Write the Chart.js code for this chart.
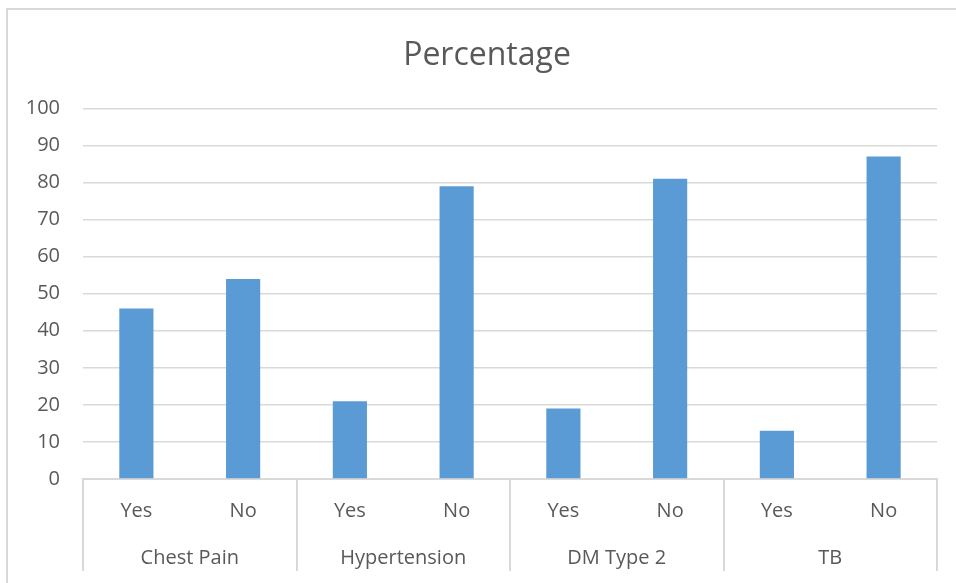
<!DOCTYPE html>
<html>
<head>
<meta charset="utf-8">
<script src="https://cdn.jsdelivr.net/npm/chart.js@4/dist/chart.umd.min.js"></script>
<style>
  html, body { margin: 0; padding: 0; background: #ffffff; }
  #wrap { width: 956px; height: 583px; }
</style>
</head>
<body>
<div id="wrap"><canvas id="chart" width="956" height="583"></canvas></div>
<script>
// Answer labels per bar, the condition each pair belongs to, and the percentages
const answers = ['Yes', 'No', 'Yes', 'No', 'Yes', 'No', 'Yes', 'No'];
const conditions = ['Chest Pain', 'Hypertension', 'DM Type 2', 'TB'];
const percentages = [46, 54, 21, 79, 19, 81, 13, 87];
const yTicks = [0, 10, 20, 30, 40, 50, 60, 70, 80, 90, 100];

const TEXT = '#595959';
const LINE = '#d9d9d9';
const FONT = "'Open Sans', 'Liberation Sans', sans-serif";

// Light frame around the chart box
const frame = {
  id: 'frame',
  beforeDraw(chart) {
    const ctx = chart.ctx;
    ctx.save();
    ctx.fillStyle = '#ffffff';
    ctx.fillRect(0, 0, chart.width, chart.height);
    ctx.strokeStyle = LINE;
    ctx.lineWidth = 2;
    ctx.strokeRect(7, 9, chart.width + 20, chart.height + 20);
    ctx.restore();
  }
};

// Vertical dividers between condition groups across both label rows
const groupDividers = {
  id: 'groupDividers',
  afterDraw(chart) {
    const x = chart.scales.x;
    const g = chart.scales.x2;
    const per = answers.length / conditions.length;
    const ctx = chart.ctx;
    ctx.save();
    ctx.strokeStyle = LINE;
    ctx.lineWidth = 2;
    ctx.beginPath();
    for (let i = 0; i <= conditions.length; i++) {
      const px = Math.round(x.getPixelForValue(i * per - 0.5));
      ctx.moveTo(px, chart.chartArea.bottom);
      ctx.lineTo(px, g.bottom - 1);
    }
    ctx.stroke();
    ctx.restore();
  }
};

new Chart(document.getElementById('chart'), {
  type: 'bar',
  data: {
    labels: answers,
    datasets: [{
      label: 'Percentage',
      data: percentages,
      backgroundColor: '#5b9bd5',
      borderWidth: 0,
      barPercentage: 0.64,
      categoryPercentage: 0.5,
      xAxisID: 'x',
      yAxisID: 'y'
    }]
  },
  options: {
    responsive: false,
    animation: false,
    devicePixelRatio: 1,
    layout: { padding: { left: 18, right: 0, top: 0, bottom: 11 } },
    plugins: {
      legend: { display: false },
      tooltip: { enabled: false },
      title: {
        display: true,
        text: 'Percentage',
        color: TEXT,
        font: { family: FONT, size: 32, weight: 'normal' },
        padding: { top: 37, bottom: 33 }
      }
    },
    scales: {
      x: {
        type: 'category',
        position: 'bottom',
        weight: 0,
        offset: true,
        grid: { display: false },
        border: { display: true, color: LINE, width: 2 },
        ticks: { color: TEXT, font: { family: FONT, size: 20 }, padding: 12.5, maxRotation: 0 }
      },
      x2: {
        type: 'category',
        position: 'bottom',
        weight: 1,
        offset: true,
        labels: conditions,
        grid: { display: false },
        border: { display: false },
        ticks: { color: TEXT, font: { family: FONT, size: 20 }, padding: 2, maxRotation: 0 }
      },
      y: {
        position: 'left',
        min: 0,
        max: 100,
        afterFit(scale) { scale.width = 65; },
        afterBuildTicks(scale) { scale.ticks = yTicks.map(v => ({ value: v })); },
        grid: { color: LINE, lineWidth: 1.5, drawTicks: false },
        border: { display: false },
        ticks: { color: TEXT, font: { family: FONT, size: 20 }, padding: 23 }
      },
      // empty right-hand strip that keeps the plot off the right edge
      yRight: {
        type: 'linear',
        position: 'right',
        min: 0,
        max: 100,
        afterFit(scale) { scale.width = 19; },
        grid: { display: false },
        border: { display: false },
        ticks: { display: false }
      }
    }
  },
  plugins: [frame, groupDividers]
});
</script>
</body>
</html>
